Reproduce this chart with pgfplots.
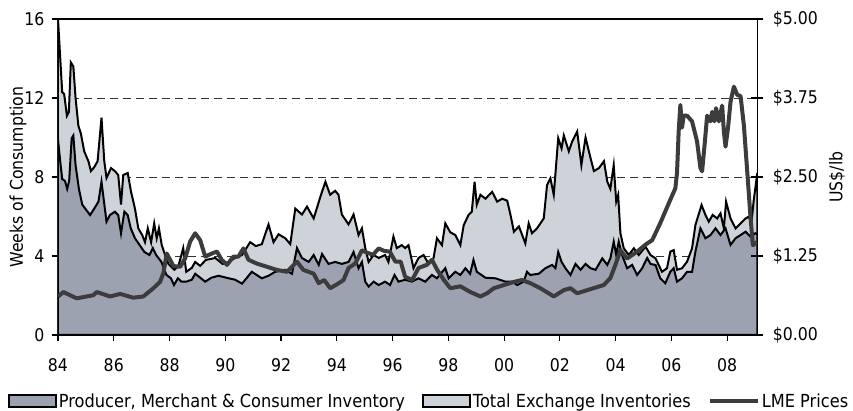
\documentclass[border=0pt]{standalone}
\usepackage{fontspec}
\setmainfont[FakeStretch=0.9]{DejaVu Sans}
\usepackage{pgfplots}
\pgfplotsset{compat=1.18}

\definecolor{prodfill}{RGB}{157,162,177}
\definecolor{exchfill}{RGB}{206,210,217}
\definecolor{lmeline}{RGB}{60,60,60}
\newcommand\cf{\fontsize{17.5}{21}\selectfont}
\newcommand\lf{\fontsize{18}{21}\selectfont}

\pgfplotsset{
  layers/gridbelow/.define layer set={axis background,axis grid,pre main,main,axis ticks,axis lines,axis tick labels,axis descriptions,axis foreground}{},
  boxlegend/.style={legend image code/.code={\draw[##1] (0pt,-6pt) rectangle (47pt,6pt);}},
  linelegend/.style={legend image code/.code={\draw[##1] (0pt,0pt) -- (48pt,0pt);}},
}

\begin{document}
\begin{tikzpicture}
\begin{axis}[
  set layers=gridbelow,
  scale only axis, width=699.3pt, height=316pt,
  at={(0,0)}, anchor=south west,
  xmin=84, xmax=109.08, ymin=0, ymax=16,
  xtick={84,86,...,108},
  xticklabels={84,86,88,90,92,94,96,98,00,02,04,06,08},
  ytick={0,4,8,12,16},
  yticklabels={0,4,8,12,16},
  xtick pos=bottom, ytick pos=left,
  tick align=outside, major tick length=6pt,
  ymajorgrids,
  major grid style={dash pattern=on 8pt off 5pt, black!80, line width=0.9pt},
  axis line style={line width=1.4pt},
  tick style={line width=1.2pt, black},
  tick label style={font=\cf},
  xticklabel style={yshift=-14pt},
  yticklabel style={xshift=-4pt},
  label style={font=\cf},
  /pgf/number format/assume math mode=true,
  ylabel={Weeks of Consumption},
  ylabel style={at={(axis description cs:-0.0572,0.5)}, anchor=center},
  legend style={at={(-0.0716,-0.209)}, anchor=west, legend columns=3,
    draw=none, fill=none, font=\lf, inner sep=0pt,
    nodes={inner sep=2pt},
    /tikz/every even column/.append style={column sep=15pt}},
]
% total (exchange + producer)
\addplot[forget plot, fill=exchfill, draw=black, line width=2pt] coordinates {
(84.0,16)(84.15,12.3)(84.22,12.2)(84.32,11.1)(84.39,11.3)(84.46,13.8)(84.55,13.6)
(84.63,12.0)(84.73,10.6)(84.82,10.2)(84.94,9.3)(85.09,8.8)(85.18,8.3)(85.3,8.5)
(85.42,8.8)(85.56,11.0)(85.66,8.8)(85.74,7.95)(85.9,8.45)(86.04,8.3)(86.16,8.1)
(86.26,6.6)(86.34,8.1)(86.5,8.2)(86.62,7.25)(86.76,6.4)(86.88,5.4)(87.02,5.06)
(87.12,4.7)(87.22,5.4)(87.34,4.7)(87.45,5.65)(87.54,4.9)(87.62,5.4)(87.72,4.56)
(87.84,4.05)(87.96,3.6)(88.17,3.3)(88.32,3.5)(88.49,4.4)(88.6,3.2)(88.8,3.4)
(88.92,3.7)(89.1,3.5)(89.3,3.8)(89.64,3.9)(89.9,3.6)(90.12,3.7)(90.35,3.9)
(90.6,4.05)(90.89,4.7)(91.1,4.5)(91.31,4.6)(91.55,5.6)(91.73,4.7)(91.91,5.1)
(92.15,4.9)(92.33,4.6)(92.51,6.4)(92.75,6.1)(92.93,6.5)(93.17,5.9)(93.41,7.0)
(93.59,7.76)(93.76,7.1)(93.94,7.3)(94.06,7.1)(94.18,6.1)(94.42,5.6)(94.6,6.1)
(94.78,5.06)(94.9,5.4)(95.02,4.4)(95.14,3.7)(95.32,4.05)(95.5,3.9)(95.73,4.05)
(95.85,3.7)(96.03,4.98)(96.15,4.4)(96.33,4.55)(96.45,4.4)(96.57,4.55)(96.75,3.38)
(96.93,3.9)(97.11,4.05)(97.29,3.6)(97.47,3.9)(97.59,4.9)(97.77,4.55)(97.89,5.65)
(98.07,5.2)(98.25,5.06)(98.43,4.55)(98.55,5.56)(98.72,6.07)(98.84,6.24)(98.94,7.76)
(99.02,6.6)(99.15,7.1)(99.33,6.9)(99.57,7.25)(99.75,6.75)(99.93,6.9)(100.11,6.8)
(100.23,6.07)(100.35,5.23)(100.53,5.5)(100.76,4.64)(100.88,5.65)(101.0,5.15)
(101.18,5.4)(101.42,5.9)(101.54,7.6)(101.66,7.93)(101.78,7.1)(101.94,9.96)
(102.06,9.45)(102.14,10.1)(102.32,9.3)(102.44,9.8)(102.62,10.3)(102.77,8.6)
(102.92,10.0)(103.1,8.95)(103.22,8.3)(103.4,8.45)(103.58,8.8)(103.7,7.76)
(103.81,7.4)(103.93,8.6)(104.02,6.75)(104.09,7.09)(104.17,5.15)(104.29,4.39)
(104.47,4.05)(104.65,4.39)(104.83,4.05)(105.07,4.47)(105.25,4.05)(105.43,3.88)
(105.66,3.2)(105.84,3.38)(105.96,4.22)(106.08,4.3)(106.2,3.3)(106.38,3.38)
(106.56,3.71)(106.74,4.39)(106.86,5.57)(107.08,6.58)(107.22,6.08)(107.34,5.74)
(107.48,6.08)(107.64,5.9)(107.76,6.16)(107.88,5.4)(107.96,6.75)(108.12,5.9)
(108.3,5.4)(108.48,5.65)(108.66,5.9)(108.77,5.99)(108.87,5.7)(108.95,6.8)(109.08,8.2)
} \closedcycle;
% producer, merchant & consumer
\addplot[forget plot, fill=prodfill, draw=black, line width=2pt] coordinates {
(84.0,9.9)(84.08,8.8)(84.15,7.9)(84.25,7.8)(84.33,7.4)(84.4,7.8)(84.49,9.96)
(84.55,10.1)(84.63,8.6)(84.75,7.4)(84.87,6.6)(85.03,6.3)(85.15,6.07)(85.3,6.4)
(85.45,6.75)(85.56,7.76)(85.65,6.75)(85.74,5.74)(85.86,6.07)(86.04,6.24)(86.16,6.07)
(86.26,5.15)(86.38,6.24)(86.5,6.07)(86.61,5.4)(86.76,4.9)(86.93,4.55)(87.1,4.2)
(87.28,4.05)(87.4,4.4)(87.52,4.05)(87.71,3.7)(87.89,3.04)(88.05,2.87)(88.16,2.53)
(88.3,2.87)(88.43,2.7)(88.6,2.7)(88.8,2.8)(88.92,3.1)(89.28,2.7)(89.5,2.9)
(89.76,3.0)(90.12,2.87)(90.35,2.8)(90.6,2.6)(90.95,3.2)(91.31,2.87)(91.55,3.0)
(91.79,3.2)(92.15,3.3)(92.39,3.1)(92.57,4.4)(92.75,3.9)(92.99,3.7)(93.17,4.05)
(93.35,3.55)(93.47,4.1)(93.7,3.6)(93.94,3.7)(94.18,3.6)(94.42,3.7)(94.6,4.2)
(94.78,3.38)(94.9,3.7)(95.02,2.7)(95.14,2.45)(95.32,2.7)(95.5,2.53)(95.73,2.7)
(95.91,2.53)(96.07,3.04)(96.21,2.7)(96.45,2.8)(96.69,2.7)(96.93,2.87)(97.17,2.7)
(97.41,3.04)(97.59,2.87)(97.89,3.38)(98.01,2.87)(98.25,3.2)(98.43,3.04)(98.61,3.38)
(98.78,3.1)(98.9,3.8)(99.02,3.2)(99.33,2.9)(99.69,2.87)(100.05,2.7)(100.29,2.7)
(100.47,2.53)(100.7,2.7)(100.82,3.2)(100.94,3.04)(101.24,3.1)(101.48,3.38)
(101.72,3.55)(101.84,3.38)(101.94,4.2)(102.06,3.7)(102.2,3.38)(102.38,3.04)
(102.56,3.6)(102.74,3.3)(102.92,3.6)(103.1,3.38)(103.28,3.3)(103.52,3.88)
(103.7,3.55)(103.81,3.88)(103.93,4.73)(104.02,4.05)(104.11,4.73)(104.23,4.05)
(104.41,3.38)(104.59,3.55)(104.77,3.04)(104.95,3.38)(105.13,3.9)(105.25,3.6)
(105.43,3.54)(105.6,2.87)(105.78,2.62)(105.96,3.2)(106.08,3.38)(106.2,2.7)
(106.38,2.87)(106.56,3.2)(106.74,3.2)(106.86,4.22)(107.04,5.4)(107.22,4.9)
(107.4,5.06)(107.58,5.4)(107.76,5.06)(107.94,5.4)(108.12,4.56)(108.3,4.9)
(108.48,5.06)(108.66,5.23)(108.83,4.98)(109.01,5.15)(109.08,5.1)
} \closedcycle;

\addlegendimage{boxlegend, fill=prodfill, draw=black, line width=1.8pt}
\addlegendentry{Producer, Merchant \& Consumer Inventory}
\addlegendimage{boxlegend, fill=exchfill, draw=black, line width=1.8pt}
\addlegendentry{Total Exchange Inventories}
\addlegendimage{linelegend, lmeline, line width=4pt}
\addlegendentry{LME Prices}
\end{axis}

\begin{axis}[
  scale only axis, width=699.3pt, height=316pt,
  at={(0,0)}, anchor=south west,
  xmin=84, xmax=109.08, ymin=0, ymax=5,
  axis y line*=right, axis x line=none,
  ytick={0,1.25,2.5,3.75,5},
  yticklabels={\$0.00,\$1.25,\$2.50,\$3.75,\$5.00},
  tick align=center, major tick length=12pt,
  axis line style={line width=1.4pt},
  tick style={line width=1.2pt, black},
  tick label style={font=\cf},
  yticklabel style={xshift=6pt},
  label style={font=\cf},
  ylabel={US\$/lb},
  ylabel style={at={(axis description cs:1.114,0.5)}, anchor=center},
]
\addplot[lmeline, line width=4pt, line join=round] coordinates {
(84.01,0.61)(84.19,0.68)(84.67,0.58)(85.27,0.63)(85.39,0.68)(85.87,0.61)(86.23,0.65)
(86.7,0.59)(87.06,0.61)(87.42,0.74)(87.66,0.84)(87.78,0.98)(87.9,1.29)(88.14,1.09)
(88.38,1.08)(88.56,1.21)(88.74,1.48)(88.92,1.61)(89.1,1.50)(89.28,1.24)(89.52,1.29)
(89.7,1.32)(89.87,1.19)(90.06,1.11)(90.29,1.24)(90.47,1.24)(90.65,1.37)(90.83,1.19)
(91.13,1.13)(91.49,1.08)(91.85,1.03)(92.21,1.00)(92.57,1.16)(92.8,1.03)(93.17,0.97)
(93.35,0.82)(93.55,0.87)(93.76,0.74)(94.0,0.80)(94.24,0.87)(94.42,1.06)(94.66,1.13)
(94.9,1.34)(95.1,1.30)(95.3,1.27)(95.5,1.37)(95.7,1.33)(95.9,1.32)(96.1,1.16)
(96.29,1.16)(96.45,0.92)(96.7,0.87)(96.93,1.06)(97.23,1.11)(97.41,1.19)(97.6,1.03)
(97.84,0.87)(98.07,0.74)(98.43,0.77)(98.79,0.68)(99.15,0.61)(99.39,0.66)(99.63,0.74)
(99.99,0.79)(100.35,0.84)(100.64,0.87)(100.94,0.82)(101.3,0.74)(101.78,0.61)
(102.14,0.71)(102.38,0.74)(102.62,0.66)(102.98,0.71)(103.2,0.74)(103.57,0.79)
(103.81,0.90)(103.99,1.11)(104.17,1.34)(104.41,1.21)(104.77,1.32)(105.07,1.43)
(105.31,1.50)(105.6,1.77)(105.96,2.14)(106.14,2.32)(106.2,2.56)(106.26,3.22)
(106.32,3.64)(106.38,3.28)(106.44,3.47)(106.56,3.47)(106.74,3.38)(106.92,3.06)
(107.04,2.64)(107.1,2.59)(107.2,3.06)(107.28,3.47)(107.4,3.38)(107.46,3.53)
(107.54,3.38)(107.6,3.59)(107.7,3.38)(107.82,3.63)(107.88,3.22)(107.94,2.98)
(108.03,3.28)(108.12,3.69)(108.24,3.93)(108.36,3.80)(108.48,3.78)(108.6,3.31)
(108.71,2.64)(108.83,1.90)(108.92,1.42)(109.07,1.47)
};
\end{axis}
\pgfresetboundingbox
\useasboundingbox (-58pt,-76pt) rectangle (795pt,335pt);
\end{tikzpicture}
\end{document}
